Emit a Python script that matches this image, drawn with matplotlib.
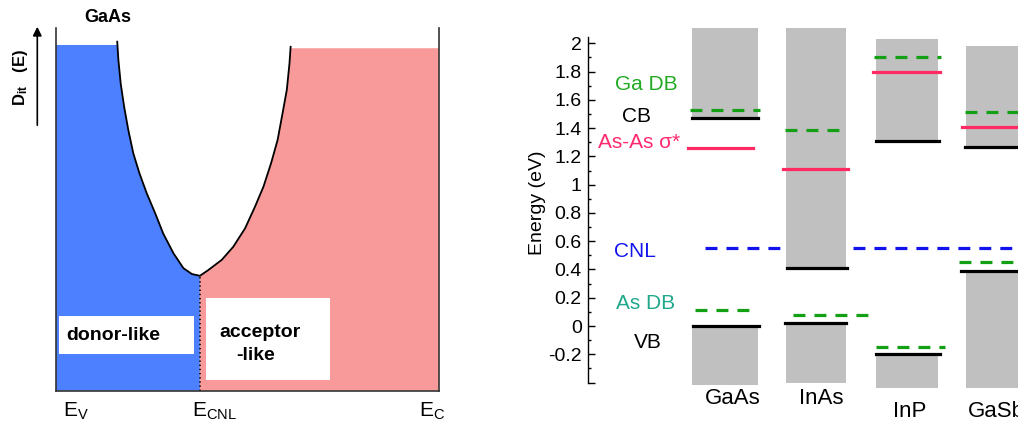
import matplotlib
matplotlib.use('Agg')
import matplotlib.pyplot as plt
from matplotlib.patches import Rectangle

plt.rcParams['font.family'] = ['Liberation Sans', 'DejaVu Sans']
plt.rcParams['mathtext.fontset'] = 'custom'
plt.rcParams['mathtext.rm'] = 'Liberation Sans'
plt.rcParams['mathtext.bf'] = 'Liberation Sans:bold'
plt.rcParams['mathtext.it'] = 'Liberation Sans:italic'
plt.rcParams['lines.scale_dashes'] = False

# --- left panel: schematic Dit(E) for GaAs (axis fractions) ---
dit_left_x = [0.160, 0.163, 0.169, 0.178, 0.189, 0.202, 0.218, 0.237, 0.259, 0.280, 0.307,
              0.333, 0.355, 0.376]
dit_left_y = [0.963, 0.913, 0.848, 0.784, 0.719, 0.655, 0.600, 0.545, 0.490, 0.434, 0.379,
              0.338, 0.322, 0.317]
dit_right_x = [0.376, 0.398, 0.433, 0.463, 0.494, 0.520, 0.542, 0.562, 0.579, 0.592, 0.603,
               0.610, 0.613]
dit_right_y = [0.317, 0.333, 0.361, 0.397, 0.448, 0.508, 0.563, 0.628, 0.692, 0.766, 0.830,
               0.903, 0.949]
donor_top = 0.954
acceptor_top = 0.945
e_cnl_pos = 0.376

# --- right panel: band edges and defect levels (eV) ---
materials = ['GaAs', 'InAs', 'InP', 'GaSb']
cb_top = [2.11, 2.11, 2.03, 1.98]
cb_min = [1.47, 0.41, 1.31, 1.27]
vb_max = [0.0, 0.02, -0.20, 0.39]
vb_bottom = [-0.42, -0.40, -0.44, -0.44]
ga_db = [1.53, 1.39, 1.90, 1.515]
as_db = [0.11, 0.08, -0.15, 0.45]
asas_sigma = [1.26, 1.11, 1.80, 1.41]
cnl = 0.55

ytick_vals = [-0.4, -0.2, 0, 0.2, 0.4, 0.6, 0.8, 1.0, 1.2, 1.4, 1.6, 1.8, 2.0]
ytick_labels = ['', '-0.2', '0', '0.2', '0.4', '0.6', '0.8', '1', '1.2', '1.4', '1.6', '1.8', '2']

fig = plt.figure(figsize=(10.18, 4.25), dpi=100)

# ================= left panel =================
ax1 = fig.add_axes([0.0550, 0.0807, 0.376, 0.8527])
ax1.set_xlim(0, 1)
ax1.set_ylim(0, 1)

blue_x = [0, 0] + dit_left_x + [e_cnl_pos]
blue_y = [0, donor_top] + dit_left_y + [0]
blue_y[2] = donor_top
ax1.fill(blue_x, blue_y, color='#4d80ff', lw=0)
red_x = [e_cnl_pos] + dit_right_x + [1, 1]
red_y = [0] + dit_right_y[:-1] + [acceptor_top, acceptor_top, 0]
ax1.fill(red_x, red_y, color='#f99a9a', lw=0)
ax1.plot(dit_left_x + dit_right_x[1:], dit_left_y + dit_right_y[1:], color='black', lw=1.3,
         solid_joinstyle='round')
ax1.plot([e_cnl_pos, e_cnl_pos], [0, dit_left_y[-1]], color='black', lw=1.2, ls=(0, (1, 2)))

ax1.add_patch(Rectangle((0.009, 0.100), 0.352, 0.106, facecolor='white', edgecolor='none', zorder=3))
ax1.add_patch(Rectangle((0.392, 0.030), 0.324, 0.227, facecolor='white', edgecolor='none', zorder=3))
ax1.text(0.028, 0.151, 'donor-like', fontsize=14, fontweight='bold', va='center', ha='left', zorder=4)
ax1.text(0.426, 0.161, 'acceptor', fontsize=14, fontweight='bold', va='center', ha='left', zorder=4)
ax1.text(0.472, 0.097, '-like', fontsize=14, fontweight='bold', va='center', ha='left', zorder=4)

for s in ['left', 'right', 'bottom']:
    ax1.spines[s].set_color('#333333')
    ax1.spines[s].set_linewidth(1.2)
ax1.spines['top'].set_visible(False)
ax1.set_xticks([])
ax1.set_yticks([])

fig.text(108 / 1018, 1 - 18 / 425, 'GaAs', fontsize=13, fontweight='bold', ha='center', va='center')
fig.text(20 / 1018, 1 - 78 / 425, r'$\mathbf{D_{it}}$   (E)', fontsize=12, fontweight='bold',
         rotation=90, ha='center', va='center')
fig.patches.append(matplotlib.patches.FancyArrowPatch(
    (37.3 / 1018, 1 - 128 / 425), (37.3 / 1018, 1 - 24 / 425), transform=fig.transFigure,
    arrowstyle='-|>', mutation_scale=13, color='black', lw=1.2))
fig.text(63 / 1018, 1 - 417 / 425, r'$\mathrm{E_V}$', fontsize=15, ha='left', va='baseline')
fig.text(192 / 1018, 1 - 417 / 425, r'$\mathrm{E_{CNL}}$', fontsize=15, ha='left', va='baseline')
fig.text(419 / 1018, 1 - 417 / 425, r'$\mathrm{E_C}$', fontsize=15, ha='left', va='baseline')

# ================= right panel =================
ax2 = fig.add_axes([0.5776, 0.0666, 0.4224, 0.8979])
ax2.set_xlim(-1.505, 3.22)
ax2.set_ylim(-0.5, 2.2)

xpos = list(range(len(materials)))
widths = [0.72, 0.66, 0.69, 0.70]
gray = '#c0c0c0'
ax2.bar(xpos, [t - b for t, b in zip(cb_top, cb_min)], bottom=cb_min, width=widths, color=gray, zorder=1)
ax2.bar(xpos, [t - b for t, b in zip(vb_max, vb_bottom)], bottom=vb_bottom, width=widths, color=gray, zorder=1)

green = '#14a014'
red = '#ff2a62'
dash = (0, (8.6, 6.5))

# horizontal extent of each level line relative to the bar centre
span_cb = [(-0.36, 0.36), (-0.32, 0.34), (-0.34, 0.35), (-0.36, 0.5)]
span_vb = [(-0.35, 0.37), (-0.34, 0.33), (-0.34, 0.36), (-0.41, 0.5)]
span_ga = [(-0.385, 0.39), (-0.34, 0.26), (-0.36, 0.37), (-0.36, 0.5)]
span_as = [(-0.33, 0.28), (-0.25, 0.57), (-0.34, 0.42), (-0.43, 0.5)]
span_ss = [(-0.41, 0.31), (-0.36, 0.35), (-0.37, 0.36), (-0.40, 0.5)]

for i in xpos:
    ax2.plot([i + span_cb[i][0], i + span_cb[i][1]], [cb_min[i]] * 2, color='black', lw=2.3, zorder=3)
    ax2.plot([i + span_vb[i][0], i + span_vb[i][1]], [vb_max[i]] * 2, color='black', lw=2.3, zorder=3)
    ax2.plot([i + span_ga[i][0], i + span_ga[i][1]], [ga_db[i]] * 2, color=green, lw=2.3, ls=dash, zorder=3)
    ax2.plot([i + span_as[i][0], i + span_as[i][1]], [as_db[i]] * 2, color=green, lw=2.3, ls=dash, zorder=3)
    ax2.plot([i + span_ss[i][0], i + span_ss[i][1]], [asas_sigma[i]] * 2, color=red, lw=2.3, zorder=3)

ax2.plot([-0.22, 0.63], [cnl, cnl], color='#1212ee', lw=2.3, ls=dash, zorder=3)
ax2.plot([1.41, 3.4], [cnl, cnl], color='#1212ee', lw=2.3, ls=dash, zorder=3)

ax2.text(-0.868, 1.71, 'Ga DB', color='#22aa22', fontsize=15, ha='center', va='center')
ax2.text(-0.97, 1.48, 'CB', color='black', fontsize=15, ha='center', va='center')
ax2.text(-0.944, 1.30, 'As-As σ*', color='#ff2a6e', fontsize=15, ha='center', va='center')
ax2.text(-0.99, 0.53, 'CNL', color='#1414f0', fontsize=15, ha='center', va='center')
ax2.text(-0.868, 0.156, 'As DB', color='#20a88a', fontsize=15, ha='center', va='center')
ax2.text(-0.846, -0.118, 'VB', color='black', fontsize=15, ha='center', va='center')

mat_x = [0.09, 1.055, 2.03, 2.67]
mat_y = [-0.51, -0.51, -0.607, -0.607]
mat_ha = ['center', 'center', 'center', 'left']
for name, mx, my, ha in zip(materials, mat_x, mat_y, mat_ha):
    ax2.text(mx, my, name, fontsize=16, ha=ha, va='center')

for s in ['top', 'right', 'bottom']:
    ax2.spines[s].set_visible(False)
ax2.spines['left'].set_bounds(-0.405, 2.045)
ax2.spines['left'].set_linewidth(1.0)
ax2.set_xticks([])
ax2.set_yticks(ytick_vals)
ax2.set_yticklabels(ytick_labels)
ax2.set_yticks([-0.3, -0.1, 0.1, 0.3, 0.5, 0.7, 0.9, 1.1, 1.3, 1.5, 1.7, 1.9], minor=True)
ax2.tick_params(axis='y', which='major', direction='in', length=5, width=1, labelsize=14, pad=4.5)
ax2.tick_params(axis='y', which='minor', direction='in', length=2.5, width=1)

fig.text(538 / 1018, 1 - 203 / 425, 'Energy (eV)', fontsize=14, rotation=90, ha='center', va='center')

fig.savefig('out.png', dpi=100)
